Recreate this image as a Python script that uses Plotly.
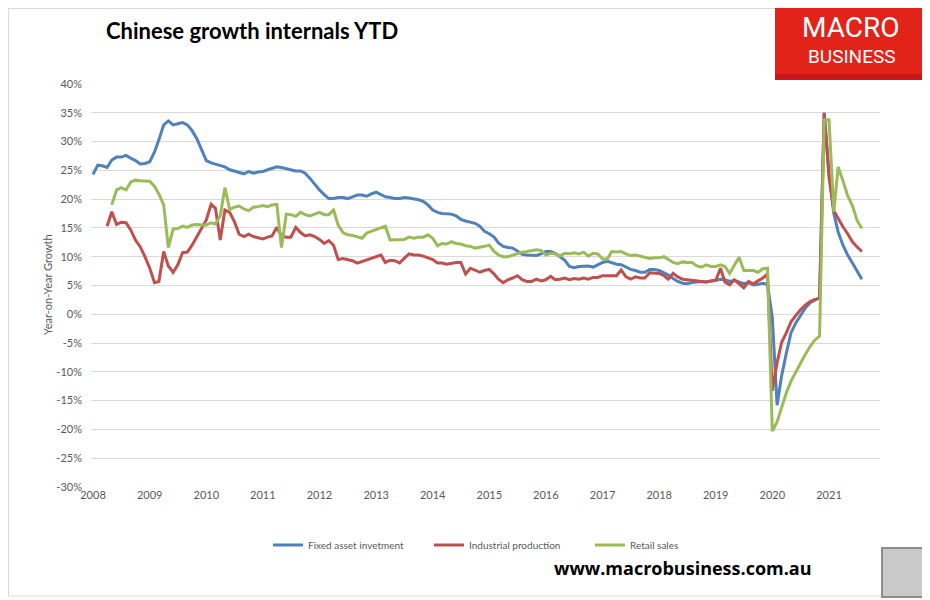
import pandas as pd
import plotly.graph_objects as go

# Year-to-date growth, % y/y, one value per month
fai_start = "2008-01-01"
fai = [
    24.3, 25.9, 25.8, 25.5, 26.8, 27.3, 27.3, 27.6, 27.1, 26.7, 26.1, 26.2,
    26.5, 28.2, 30.3, 32.9, 33.6, 32.9, 33.1, 33.3, 32.9, 31.9, 30.5, 28.5,
    26.7, 26.3, 26.1, 25.9, 25.6, 25.1, 24.9, 24.6, 24.4, 24.8, 24.5, 24.7,
    24.8, 25.1, 25.3, 25.6, 25.5, 25.3, 25.2, 24.9, 24.9, 24.5, 23.6, 22.6,
    21.6, 20.8, 20.1, 20.1, 20.3, 20.3, 20.1, 20.4, 20.7, 20.7, 20.5, 20.9,
    21.2, 20.8, 20.4, 20.3, 20.1, 20.1, 20.3, 20.2, 20.1, 19.9, 19.6, 19.0,
    18.1, 17.7, 17.5, 17.5, 17.4, 17.1, 16.5, 16.2, 16.0, 15.8, 15.3, 14.4,
    14.0, 13.4, 12.4, 11.8, 11.6, 11.5, 11.0, 10.4, 10.3, 10.3, 10.2, 10.5,
    10.9, 10.9, 10.6, 10.0, 9.4, 8.3, 8.1, 8.3, 8.3, 8.4, 8.2, 8.6,
    9.0, 9.2, 8.9, 8.7, 8.6, 8.2, 7.8, 7.6, 7.3, 7.3, 7.8, 7.8,
    7.6, 7.2, 6.8, 6.2, 5.7, 5.4, 5.3, 5.5, 5.6, 5.7, 5.6, 5.8,
    6.0, 6.1, 6.0, 5.7, 5.9, 5.6, 5.3, 5.5, 5.1, 5.2, 5.4, 5.2,
    -0.5, -15.8, -10.7, -6.7, -3.2, -1.5, -0.1, 1.1, 2.0, 2.5, 2.9, 35.0,
    24.5, 17.5, 14.3, 12.0, 10.3, 8.9, 7.4, 6.1,
]

ip_start = "2008-04-01"
ip = [
    15.3, 17.8, 15.6, 16.0, 15.9, 14.6, 12.9, 11.7, 10.0,
    8.0, 5.5, 5.7, 10.9, 8.4, 7.3, 8.6, 10.7, 10.8, 12.0, 13.5, 14.9,
    16.4, 19.1, 18.4, 12.9, 18.1, 17.7, 16.1, 13.9, 13.5, 13.9, 13.5, 13.3,
    13.1, 13.4, 13.6, 15.1, 13.6, 13.4, 13.4, 15.1, 14.2, 13.6, 13.8, 13.5,
    13.0, 12.3, 12.8, 12.0, 9.5, 9.7, 9.5, 9.3, 8.9, 9.2, 9.5, 9.8,
    10.1, 10.3, 9.0, 9.4, 9.3, 8.9, 9.7, 10.5, 10.3, 10.3, 10.1, 9.8,
    9.5, 8.9, 8.9, 8.7, 8.9, 9.0, 9.0, 7.0, 8.0, 7.6, 7.3, 7.6,
    7.8, 7.0, 6.1, 5.5, 6.0, 6.3, 6.7, 6.0, 5.7, 5.7, 6.1, 5.8,
    6.0, 6.6, 6.0, 6.1, 6.3, 6.0, 6.2, 6.1, 6.3, 6.1, 6.4, 6.4,
    6.7, 6.7, 6.7, 6.7, 7.7, 6.5, 6.1, 6.5, 6.3, 6.3, 7.2, 7.2,
    7.1, 6.7, 6.1, 7.1, 6.5, 6.1, 6.0, 5.9, 5.9, 5.8, 5.6, 5.8,
    5.9, 8.0, 5.6, 5.1, 6.0, 5.3, 4.6, 5.7, 5.3, 5.8, 6.3, 7.0,
    -13.3, -8.4, -4.9, -3.2, -1.3, -0.2, 0.8, 1.6, 2.2, 2.6, 2.8, 35.0,
    23.8, 18.0, 16.6, 15.2, 14.0, 12.6, 11.7, 10.9,
]

retail_start = "2008-05-01"
retail = [
    19.0, 21.6, 22.0, 21.6, 23.0, 23.3, 23.2, 23.1,
    23.1, 22.2, 20.9, 19.0, 11.6, 14.8, 14.9, 15.3, 15.1, 15.5, 15.6, 15.5,
    15.5, 15.9, 15.7, 17.1, 22.0, 18.2, 18.6, 18.8, 18.3, 18.0, 18.6, 18.7,
    18.9, 18.7, 19.0, 19.1, 11.6, 17.4, 17.3, 17.0, 17.7, 17.3, 17.1, 17.4,
    17.7, 17.3, 17.3, 18.1, 15.5, 14.2, 13.8, 13.7, 13.4, 13.2, 14.1, 14.4,
    14.6, 14.9, 15.3, 12.9, 12.9, 13.0, 13.0, 13.4, 13.2, 13.4, 13.4, 13.8,
    13.2, 11.9, 12.3, 12.2, 12.6, 12.3, 12.2, 11.9, 11.8, 11.5, 11.6, 11.8,
    12.0, 10.9, 10.3, 10.0, 10.0, 10.3, 10.6, 10.8, 10.9, 11.0, 11.2, 11.1,
    10.3, 10.6, 10.5, 10.1, 10.6, 10.5, 10.7, 10.5, 10.8, 10.1, 10.6, 10.5,
    9.6, 9.6, 10.9, 10.8, 10.9, 10.5, 10.2, 10.3, 10.1, 9.8, 9.7, 9.8,
    9.8, 10.0, 9.5, 9.0, 8.8, 9.1, 9.0, 9.0, 8.4, 8.2, 8.6, 8.3,
    8.3, 8.6, 8.3, 7.1, 8.5, 9.9, 7.6, 7.6, 7.6, 7.3, 7.9, 8.0,
    -20.3, -18.7, -16.3, -13.6, -11.6, -9.9, -8.5, -7.0, -5.6, -4.5, -3.8, 33.8,
    33.8, 17.8, 25.6, 23.2, 20.6, 18.9, 16.3, 14.9,
]

series_names = ["Fixed asset invetment", "Industrial production", "Retail sales"]
y_ticks = [-30, -25, -20, -15, -10, -5, 0, 5, 10, 15, 20, 25, 30, 35, 40]
x_years = list(range(2008, 2022))

colors = ["#4F81BD", "#C0504D", "#9BBB59"]
grey_text = "#595959"

# the page body has an 8px margin, so the figure is drawn 8px in
OFF = 8
W, H = 930 - OFF, 600 - OFF
# plot area in window pixels, used to place the decorations around it
PL, PR, PT, PB = 91, 880, 84, 487


def px(x):
    return (x - PL) / (PR - PL)


def py(y):
    return (PB - y) / (PB - PT)


fig = go.Figure()

for name, start, vals, col in zip(series_names,
                                  [fai_start, ip_start, retail_start],
                                  [fai, ip, retail], colors):
    dates = pd.date_range(start, periods=len(vals), freq="MS")
    fig.add_trace(go.Scatter(
        x=dates, y=vals, mode="lines", name=name,
        line=dict(color=col, width=3),
        hoverinfo="skip",
    ))

fig.update_layout(
    width=W, height=H,
    margin=dict(l=PL - OFF, r=930 - PR, t=PT - OFF, b=600 - PB),
    paper_bgcolor="white", plot_bgcolor="white",
    font=dict(family="Lato", color=grey_text),
    xaxis=dict(
        range=["2007-12-19", "2021-11-26"],
        tickvals=[f"{y}-01-01" for y in x_years],
        ticktext=[str(y) for y in x_years],
        tickfont=dict(size=11, color=grey_text),
        showgrid=False, zeroline=False, showline=False, ticks="",
    ),
    yaxis=dict(
        range=[-30, 40],
        tickvals=y_ticks,
        ticktext=[f"{v}%" for v in y_ticks],
        tickfont=dict(size=11, color=grey_text),
        gridcolor="#D9D9D9", gridwidth=1,
        zeroline=False, showline=False, ticks="",
        ticklabelstandoff=8,
    ),
    legend=dict(
        orientation="h", x=px(268), xanchor="left",
        y=py(545), yanchor="middle",
        font=dict(size=10, color=grey_text),
        entrywidth=116, entrywidthmode="pixels",
        bgcolor="rgba(0,0,0,0)",
    ),
    showlegend=True,
)

# outer frame, logo box and the small picture placeholder
fig.add_shape(type="rect", xref="paper", yref="paper",
              x0=px(8.5), x1=px(927), y0=py(596), y1=py(8.5),
              line=dict(color="#D9D9D9", width=1), layer="below")
fig.add_shape(type="rect", xref="paper", yref="paper",
              x0=px(775), x1=px(930), y0=py(80), y1=py(0),
              fillcolor="#E2231A", line=dict(width=0))
fig.add_shape(type="rect", xref="paper", yref="paper",
              x0=px(775), x1=px(930), y0=py(80), y1=py(74),
              fillcolor="#C8161B", line=dict(width=0))
fig.add_shape(type="rect", xref="paper", yref="paper",
              x0=px(882), x1=px(927), y0=py(597), y1=py(548),
              fillcolor="#C9C9C9", line=dict(color="#8C8C8C", width=2))

fig.add_annotation(text="<b>Chinese growth internals YTD</b>",
                   xref="paper", yref="paper", x=px(104), y=py(30),
                   xanchor="left", yanchor="middle", showarrow=False,
                   font=dict(family="Lato", size=22, color="black"))
fig.add_annotation(text="MACRO", xref="paper", yref="paper",
                   x=px(851), y=py(27), xanchor="center", yanchor="middle",
                   showarrow=False,
                   font=dict(family="Roboto", size=28, color="white"))
fig.add_annotation(text="BUSINESS", xref="paper", yref="paper",
                   x=px(852), y=py(57), xanchor="center", yanchor="middle",
                   showarrow=False,
                   font=dict(family="Roboto", size=19, color="white"))
fig.add_annotation(text="Year-on-Year Growth", xref="paper", yref="paper",
                   x=px(47), y=py(285), textangle=-90, showarrow=False,
                   xanchor="center", yanchor="middle",
                   font=dict(family="Lato", size=11, color=grey_text))
fig.add_annotation(text="<b>www.macrobusiness.com.au</b>",
                   xref="paper", yref="paper", x=px(683), y=py(568),
                   xanchor="center", yanchor="middle", showarrow=False,
                   font=dict(family="Open Sans", size=18, color="black"))

fig.write_html("out.html")
